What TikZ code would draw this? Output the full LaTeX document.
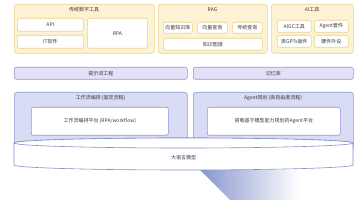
\documentclass[tikz,border=0pt]{standalone}
\usepackage{fontspec}
\usepackage{xcolor}
\usetikzlibrary{positioning}
\newfontfamily\cjk{Noto Sans CJK SC}
\definecolor{ink}{HTML}{3A3A3A}
\definecolor{creamA}{HTML}{FCF2D4}
\definecolor{creamB}{HTML}{EDD08E}
\definecolor{lilacA}{HTML}{E5E0F8}
\definecolor{lilacB}{HTML}{9D90DA}
\definecolor{layerA}{HTML}{D8DCF4}
\definecolor{layerB}{HTML}{8E96D0}
\definecolor{cylB}{HTML}{8090C8}
\definecolor{beam}{HTML}{8896CE}
\tikzset{
  txt/.style={font=\cjk\fontsize{5}{6}\selectfont, text=ink, inner sep=0pt},
  groupbox/.style={rounded corners=2.5pt, draw=creamB, fill=creamA, line width=0.6pt, anchor=north west, inner sep=0pt},
  itembox/.style={txt, rounded corners=2pt, draw=creamB, fill=white, line width=0.6pt, anchor=north west},
  barbox/.style={txt, rounded corners=2pt, draw=lilacB, fill=lilacA, line width=0.6pt, anchor=north west},
  layerbox/.style={rounded corners=2.5pt, draw=layerB, fill=layerA, line width=0.6pt, anchor=north west, inner sep=0pt},
  platbox/.style={txt, rounded corners=2pt, draw=lilacB, fill=white, line width=0.6pt, anchor=north west},
  cylline/.style={draw=cylB, line width=0.6pt, fill=white}
}

\begin{document}
\begin{tikzpicture}[x=1pt,y=1pt]
\useasboundingbox (0,0) rectangle (356,200);

% tools row
\node[groupbox, minimum width=140pt, minimum height=49pt] (digital) at (14,196) {};
\node[txt] (digitaltitle) at (84,190) {传统数字工具};
\node[itembox, minimum width=66pt, minimum height=13pt] (api) at (17,182) {API};
\node[itembox, minimum width=66pt, minimum height=13pt] (itsoft) at (17,165) {IT软件};
\node[itembox, minimum width=60pt, minimum height=30pt] (rpa) at (87,182) {RPA};

\node[groupbox, minimum width=109pt, minimum height=49pt] (rag) at (158,196) {};
\node[txt] (ragtitle) at (212.5,190) {RAG};
\node[itembox, minimum width=29pt, minimum height=11pt] (vecbase) at (163,178) {向量知识库};
\node[itembox, minimum width=30pt, minimum height=11pt] (vecquery) at (197,178) {向量查询};
\node[itembox, minimum width=30pt, minimum height=11pt] (oldquery) at (232,178) {传统查询};
\node[itembox, minimum width=99pt, minimum height=12pt] (kgraph) at (163,162) {知识图谱};

\node[groupbox, minimum width=82pt, minimum height=49pt] (aitools) at (271,196) {};
\node[txt] (aititle) at (312,190) {AI工具};
\node[itembox, minimum width=34pt, minimum height=12pt] (aigc) at (277,180) {AIGC工具};
\node[itembox, minimum width=34pt, minimum height=12pt] (agentkit) at (314,180) {Agent套件};
\node[itembox, minimum width=34pt, minimum height=12pt] (gpts) at (277,165) {类GPTs插件};
\node[itembox, minimum width=34pt, minimum height=12pt] (hardware) at (314,165) {硬件外设};

% prompt and memory
\node[barbox, minimum width=173pt, minimum height=12pt] (prompt) at (14,133) {提示词工程};
\node[barbox, minimum width=160pt, minimum height=12pt] (memory) at (193,133) {记忆库};

% orchestration layers
\node[layerbox, minimum width=173pt, minimum height=58pt] (workflow) at (14,108) {};
\node[txt] (workflowtitle) at (100.5,102) {工作流编排 (固定流程)};
\node[platbox, minimum width=137pt, minimum height=28pt] (wfplat) at (31,93) {工作流编排平台 (RPA/workflow)};

\node[layerbox, minimum width=160pt, minimum height=58pt] (agent) at (193,108) {};
\node[txt] (agenttitle) at (273,102) {Agent规划 (高自由度流程)};
\node[platbox, minimum width=133pt, minimum height=28pt] (agplat) at (207,93) {搭载基于模型能力规划的Agent平台};

% beam under the model
\shade[left color=beam, right color=white] (200,30) -- (300,30) -- (300,0) -- (230,0) -- cycle;

% large language model
\filldraw[cylline] (14,57) -- (14,35) arc[start angle=180, end angle=360, x radius=169.5, y radius=5]
  -- (353,57) arc[start angle=0, end angle=180, x radius=169.5, y radius=5] -- cycle;
\draw[cylline] (183.5,57) ellipse[x radius=169.5, y radius=5];
\node[txt] (llm) at (183.5,42) {大语言模型};

\end{tikzpicture}
\end{document}
